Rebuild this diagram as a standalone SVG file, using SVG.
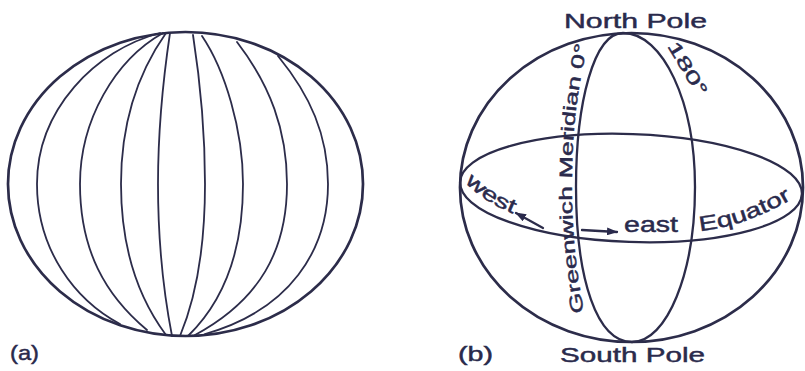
<svg xmlns="http://www.w3.org/2000/svg" width="805" height="371" viewBox="0 0 805 371">
  <style>
    .ln { fill: none; stroke: #2c2c4a; stroke-linecap: round; }
    .thin { stroke-width: 1.8; }
    .med { stroke-width: 2.3; }
    .thick { stroke-width: 2.7; }
    .t { font-family: "Liberation Sans", Arial, sans-serif; fill: #2a2a4c; stroke: #2a2a4c; stroke-width: 0.45; }
  </style>
  <defs>
    <marker id="ah" markerUnits="userSpaceOnUse" markerWidth="11" markerHeight="8" refX="10" refY="4" orient="auto">
      <path d="M0,0 L11,4 L0,8 z" fill="#2a2a4c"/>
    </marker>
    <path id="pGreen" d="M584,312 C577,275 572,235 572,187 C572,130 577,88 589,40"/>
    <path id="pWest" d="M465,182 Q485,204 522,217"/>
    <path id="pEq" d="M700,231 Q748,226 797,196"/>
  </defs>
  <rect width="805" height="371" fill="#ffffff"/>

  <!-- Globe (a) -->
  <g id="globe-a">
    <ellipse class="ln thick" cx="185.5" cy="184" rx="177.5" ry="152"/>
    <path class="ln thin" d="M160,33 C95,50 37,110 37,184 C37,250 75,300 120,324"/>
    <path class="ln thin" d="M163,33 C115,60 80,120 80,184 C80,250 105,295 147,330"/>
    <path class="ln thin" d="M166,33 C140,70 121,120 121,184 C121,250 140,300 166,335"/>
    <path class="ln thin" d="M170,33 C163,80 158,130 158,184 C158,250 165,300 172,336"/>
    <path class="ln thin" d="M193,35 C200,80 205,130 205,184 C205,250 195,300 180,336"/>
    <path class="ln thin" d="M202,36 C225,70 243,130 243,184 C243,250 225,300 188,336"/>
    <path class="ln thin" d="M237,42 C270,85 287,130 287,184 C287,250 260,300 195,335"/>
    <path class="ln thin" d="M278,56 C310,95 328,135 328,184 C328,250 290,310 205,334"/>
  </g>
  <g id="label-a">
    <text class="t" x="10" y="360" font-size="21" textLength="29" lengthAdjust="spacingAndGlyphs">(a)</text>
  </g>

  <!-- Globe (b) -->
  <g id="globe-b">
    <ellipse class="ln thick" cx="631.5" cy="187.5" rx="171.5" ry="154.5"/>
  </g>
  <g id="equator">
    <ellipse class="ln med" cx="631" cy="188" rx="171" ry="54" transform="rotate(2 631 188)"/>
    <text class="t" font-size="21"><textPath href="#pEq" textLength="98" lengthAdjust="spacingAndGlyphs">Equator</textPath></text>
  </g>
  <g id="meridian">
    <path class="ln med" d="M623,33 C663,33 695,102 695,187 C695,273 667,342 632,342 C597,342 576,280 576,187 C576,102 594,33 623,33 Z"/>
    <text class="t" font-size="18"><textPath href="#pGreen" textLength="269" lengthAdjust="spacingAndGlyphs">Greenwich Meridian 0°</textPath></text>
    <text class="t" font-size="18" transform="translate(667,46) rotate(59)" textLength="60" lengthAdjust="spacingAndGlyphs">180°</text>
  </g>
  <g id="north-pole">
    <text class="t" x="564" y="28" font-size="21" textLength="143" lengthAdjust="spacingAndGlyphs">North Pole</text>
  </g>
  <g id="south-pole">
    <text class="t" x="560" y="362" font-size="21" textLength="145" lengthAdjust="spacingAndGlyphs">South Pole</text>
  </g>
  <g id="west">
    <text class="t" font-size="20"><textPath href="#pWest" textLength="58" lengthAdjust="spacingAndGlyphs">west</textPath></text>
  </g>
  <g id="east">
    <text class="t" x="624" y="232" font-size="22" textLength="54" lengthAdjust="spacingAndGlyphs">east</text>
  </g>
  <g id="label-b">
    <text class="t" x="458" y="361" font-size="21" textLength="35" lengthAdjust="spacingAndGlyphs">(b)</text>
  </g>

  <g id="connectors">
    <line class="ln med" x1="543" y1="228" x2="516" y2="213" marker-end="url(#ah)"/>
    <line class="ln med" x1="582" y1="230" x2="617" y2="232" marker-end="url(#ah)"/>
  </g>
</svg>
